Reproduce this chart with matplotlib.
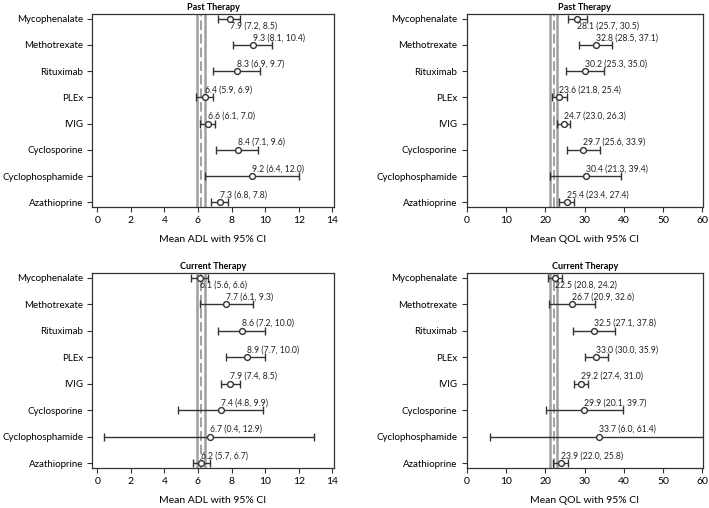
import matplotlib
matplotlib.use("Agg")
import matplotlib.pyplot as plt
import numpy as np

plt.rcParams['font.family'] = ['Lato', 'DejaVu Sans']

categories = ["Mycophenalate", "Methotrexate", "Rituximab", "PLEx", "IVIG",
              "Cyclosporine", "Cyclophosphamide", "Azathioprine"]

past_adl_mean = [7.9, 9.3, 8.3, 6.4, 6.6, 8.4, 9.2, 7.3]
past_adl_lo = [7.2, 8.1, 6.9, 5.9, 6.1, 7.1, 6.4, 6.8]
past_adl_hi = [8.5, 10.4, 9.7, 6.9, 7.0, 9.6, 12.0, 7.8]

past_qol_mean = [28.1, 32.8, 30.2, 23.6, 24.7, 29.7, 30.4, 25.4]
past_qol_lo = [25.7, 28.5, 25.3, 21.8, 23.0, 25.6, 21.3, 23.4]
past_qol_hi = [30.5, 37.1, 35.0, 25.4, 26.3, 33.9, 39.4, 27.4]

cur_adl_mean = [6.1, 7.7, 8.6, 8.9, 7.9, 7.4, 6.7, 6.2]
cur_adl_lo = [5.6, 6.1, 7.2, 7.7, 7.4, 4.8, 0.4, 5.7]
cur_adl_hi = [6.6, 9.3, 10.0, 10.0, 8.5, 9.9, 12.9, 6.7]

cur_qol_mean = [22.5, 26.7, 32.5, 33.0, 29.2, 29.9, 33.7, 23.9]
cur_qol_lo = [20.8, 20.9, 27.1, 30.0, 27.4, 20.1, 6.0, 22.0]
cur_qol_hi = [24.2, 32.6, 37.8, 35.9, 31.0, 39.7, 61.4, 25.8]

adl_ref = [5.97, 6.2, 6.45]   # lower CI, mean (dashed), upper CI
qol_ref = [21.2, 22.1, 23.0]

adl_ticks = [0, 2, 4, 6, 8, 10, 12, 14]
qol_ticks = [0, 10, 20, 30, 40, 50, 60]

fig = plt.figure(figsize=(7.09, 5.08), dpi=100)

panels = [
    ([0.130, 0.5925, 0.341, 0.3795], "Past Therapy", past_adl_mean, past_adl_lo, past_adl_hi,
     adl_ref, adl_ticks, (-0.3, 14.1), "Mean ADL with 95% CI"),
    ([0.658, 0.5925, 0.3335, 0.3795], "Past Therapy", past_qol_mean, past_qol_lo, past_qol_hi,
     qol_ref, qol_ticks, (-0.1, 60.2), "Mean QOL with 95% CI"),
    ([0.130, 0.079, 0.341, 0.3836], "Current Therapy", cur_adl_mean, cur_adl_lo, cur_adl_hi,
     adl_ref, adl_ticks, (-0.3, 14.1), "Mean ADL with 95% CI"),
    ([0.658, 0.079, 0.3335, 0.3836], "Current Therapy", cur_qol_mean, cur_qol_lo, cur_qol_hi,
     qol_ref, qol_ticks, (-0.1, 60.2), "Mean QOL with 95% CI"),
]

for rect, title, mean, lo, hi, ref, ticks, xlim, xlabel in panels:
    ax = fig.add_axes(rect)
    n = len(categories)
    y = np.arange(n)
    mean = np.array(mean); lo = np.array(lo); hi = np.array(hi)
    ax.axvline(ref[0], color='#a0a0a0', lw=1.8, zorder=1)
    ax.axvline(ref[2], color='#a0a0a0', lw=1.8, zorder=1)
    ax.axvline(ref[1], color='#a0a0a0', lw=1.4, ls=(0, (5, 2)), zorder=1)
    ax.errorbar(mean, y, xerr=[mean - lo, hi - mean], fmt='o', ms=4.2,
                mfc='white', mec='#333333', mew=1.0, ecolor='#333333',
                elinewidth=1.0, capsize=3, capthick=1.0, zorder=3)
    for i in range(n):
        lab = f"{mean[i]:.1f} ({lo[i]:.1f}, {hi[i]:.1f})"
        if i == 0:
            ax.annotate(lab, (mean[i], y[i]), xytext=(0, -2), textcoords='offset points',
                        ha='left', va='top', fontsize=6.2, color='#222222')
        else:
            ax.annotate(lab, (mean[i], y[i]), xytext=(0, 2), textcoords='offset points',
                        ha='left', va='bottom', fontsize=6.2, color='#222222')
    ax.set_ylim(n - 1 + 0.18, -0.17)
    ax.set_yticks(y)
    ax.set_yticklabels(categories, fontsize=7.0)
    ax.set_xlim(*xlim)
    ax.set_xticks(ticks)
    ax.set_xticklabels([str(t) for t in ticks], fontsize=7.5)
    ax.tick_params(axis='both', direction='out', length=3.5, width=0.8, color='#333333')
    ax.tick_params(axis='x', pad=3)
    ax.tick_params(axis='y', pad=3)
    for s in ax.spines.values():
        s.set_linewidth(0.9)
        s.set_color('#333333')
    ax.set_title(title, fontsize=6.5, fontweight='bold', pad=3)
    ax.set_xlabel(xlabel, fontsize=7.5, labelpad=7)

fig.savefig("out.png", dpi=100)
